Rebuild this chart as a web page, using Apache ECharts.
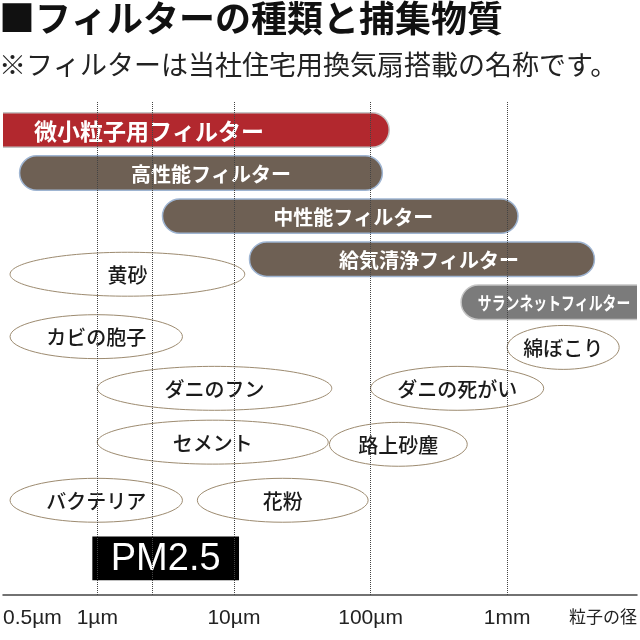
<!DOCTYPE html>
<html>
<head>
<meta charset="utf-8">
<script src="https://cdn.jsdelivr.net/npm/echarts@6/dist/echarts.min.js"></script>
<style>
  html, body { margin: 0; padding: 0; background: #fff; }
  #chart { width: 640px; height: 640px; }
</style>
</head>
<body>
<div id="chart"></div>
<script>
// Filters (bars), sizes in µm
const filterNames = ["微小粒子用フィルター", "高性能フィルター", "中性能フィルター", "給気清浄フィルター", "サランネットフィルター"];
const filterFrom = [0.1, 0.27, 3, 13, 460];
const filterTo = [137, 122, 1200, 4350, 20000];
const filterRow = [0, 1, 2, 3, 4];

// Particles (ellipses), sizes in µm
const particleNames = ["黄砂", "カビの胞子", "綿ぼこり", "ダニのフン", "ダニの死がい", "セメント", "路上砂塵", "バクテリア", "花粉"];
const particleFrom = [0.23, 0.23, 1000, 1, 100, 1, 50, 0.23, 5.4];
const particleTo = [12, 4.2, 6600, 52, 1850, 49, 510, 4.2, 96];
const particleRow = [3.35, 4.8, 5.05, 6, 6, 7.25, 7.3, 8.6, 8.6];

// PM2.5 box
const pmName = "PM2.5";
const pmFrom = 0.92;
const pmTo = 10.9;
const pmRow = 9.95;

// Axis
const guideLines = [1, 2.5, 10, 100, 1000];
const tickValues = [1, 10, 100, 1000];
const tickLabels = ["1µm", "10µm", "100µm", "1mm"];
const minLabel = "0.5µm";
const maxLabel = "粒子の径";

const JP = '"Noto Sans CJK JP", sans-serif';
const xMin = -0.69;
const xMax = 3.95;

const filterFill = ["#b2282e", "#6e6054", "#6e6054", "#6e6054", "#7b7b7b"];
const filterStroke = ["#c4c4c4", "#9fb5d2", "#9fb5d2", "#9fb5d2", "#c4c4c4"];
const filterFont = [23, 20, 20, 20, 18];
const filterScale = [1, 1, 1, 1, 0.77];
const labelShift = [-47, 10, 13, 7, 5];

const lg = (v) => Math.log10(v);

function renderFilter(params, api) {
  const i = params.dataIndex;
  const a = api.coord([api.value(0), api.value(2)]);
  const b = api.coord([api.value(1), api.value(2)]);
  const h = api.size([0, 0.8])[1];
  const cs = params.coordSys;
  const left = Math.max(a[0], cs.x);
  const right = Math.min(b[0], cs.x + cs.width);
  const cx = (left + right) / 2 + labelShift[i];
  return {
    type: "group",
    children: [
      {
        type: "rect",
        shape: { x: a[0], y: a[1] - h / 2, width: b[0] - a[0], height: h, r: h / 2 },
        style: { fill: filterFill[i], stroke: filterStroke[i], lineWidth: 1.5 }
      },
      {
        type: "text",
        x: cx,
        y: a[1] + 1,
        scaleX: filterScale[i],
        style: {
          text: filterNames[i],
          fill: "#fff",
          font: "bold " + filterFont[i] + "px " + JP,
          align: "center",
          verticalAlign: "middle"
        }
      }
    ]
  };
}

function renderParticle(params, api) {
  const i = params.dataIndex;
  const a = api.coord([api.value(0), api.value(2)]);
  const b = api.coord([api.value(1), api.value(2)]);
  const h = api.size([0, 1.02])[1];
  const cx = (a[0] + b[0]) / 2;
  return {
    type: "group",
    children: [
      {
        type: "ellipse",
        shape: { cx: cx, cy: a[1], rx: (b[0] - a[0]) / 2, ry: h / 2 },
        style: { fill: "#fff", stroke: "#9d8b70", lineWidth: 1 }
      },
      {
        type: "text",
        x: cx,
        y: a[1] + 1,
        style: {
          text: particleNames[i],
          fill: "#1a1a1a",
          font: "500 20px " + JP,
          align: "center",
          verticalAlign: "middle"
        }
      }
    ]
  };
}

function renderPm(params, api) {
  const a = api.coord([api.value(0), api.value(2)]);
  const b = api.coord([api.value(1), api.value(2)]);
  const h = api.size([0, 1.02])[1];
  return {
    type: "group",
    children: [
      {
        type: "rect",
        shape: { x: a[0], y: a[1] - h / 2, width: b[0] - a[0], height: h },
        style: { fill: "#000" }
      },
      {
        type: "text",
        x: (a[0] + b[0]) / 2,
        y: a[1] + 1,
        style: {
          text: pmName,
          fill: "#fff",
          font: '38px "Liberation Sans", sans-serif',
          align: "center",
          verticalAlign: "middle"
        }
      }
    ]
  };
}

const chart = echarts.init(document.getElementById("chart"));

const option = {
  backgroundColor: "#fff",
  animation: false,
  title: {
    text: "■フィルターの種類と捕集物質",
    subtext: "※フィルターは当社住宅用換気扇搭載の名称です。",
    left: -1,
    top: 0,
    padding: 0,
    itemGap: 15,
    textStyle: { fontFamily: JP, fontSize: 36, fontWeight: "bold", color: "#111" },
    subtextStyle: { fontFamily: JP, fontSize: 27, color: "#222" }
  },
  grid: { left: 0, right: 0, top: 102, bottom: 45 },
  xAxis: {
    type: "value",
    min: xMin,
    max: xMax,
    splitLine: { show: false },
    axisTick: { show: false },
    axisLine: { onZero: false, lineStyle: { color: "#444", width: 1.5 } },
    axisLabel: {
      customValues: [xMin].concat(tickValues.map(lg), [xMax]),
      alignMinLabel: "left",
      alignMaxLabel: "right",
      margin: 13,
      fontFamily: '"Liberation Sans", sans-serif',
      fontSize: 21,
      color: "#222",
      formatter: function (v) {
        if (v === xMin) return minLabel;
        if (v === xMax) return "{jp|" + maxLabel + "}";
        const k = tickValues.findIndex((t) => Math.abs(lg(t) - v) < 1e-6);
        return k >= 0 ? tickLabels[k] : "";
      },
      rich: {
        jp: { fontFamily: JP, fontSize: 17, color: "#222" }
      }
    }
  },
  yAxis: {
    type: "value",
    inverse: true,
    min: -0.65,
    max: 10.8,
    show: false
  },
  series: [
    {
      type: "line",
      data: [],
      z: 1,
      silent: true,
      markLine: {
        symbol: "none",
        silent: true,
        label: { show: false },
        lineStyle: { color: "#444", type: "dotted", width: 1 },
        data: guideLines.map((v) => ({ xAxis: lg(v) }))
      }
    },
    {
      type: "custom",
      z: 3,
      clip: true,
      renderItem: renderFilter,
      encode: { x: [0, 1], y: 2 },
      data: filterNames.map((n, i) => [lg(filterFrom[i]), lg(filterTo[i]), filterRow[i]])
    },
    {
      type: "custom",
      z: 3,
      clip: true,
      renderItem: renderParticle,
      encode: { x: [0, 1], y: 2 },
      data: particleNames.map((n, i) => [lg(particleFrom[i]), lg(particleTo[i]), particleRow[i]])
    },
    {
      type: "custom",
      z: 3,
      renderItem: renderPm,
      encode: { x: [0, 1], y: 2 },
      data: [[lg(pmFrom), lg(pmTo), pmRow]]
    }
  ]
};

chart.setOption(option);
</script>
</body>
</html>
